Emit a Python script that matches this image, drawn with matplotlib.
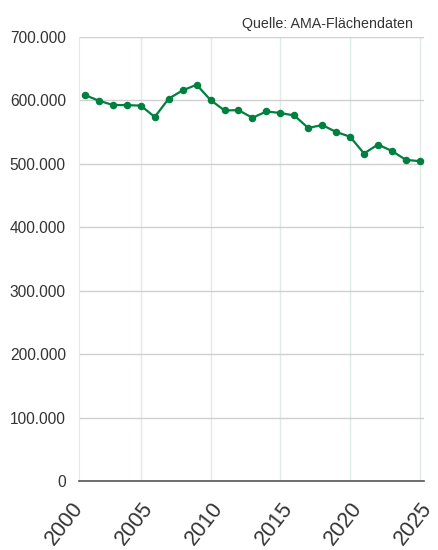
import matplotlib
matplotlib.use("Agg")
import matplotlib.pyplot as plt
from matplotlib.ticker import FuncFormatter
from matplotlib.transforms import ScaledTranslation

plt.rcParams['font.family'] = ['Liberation Sans Narrow', 'Liberation Sans', 'DejaVu Sans']

years = list(range(2001, 2026))
flaeche = [608400, 599500, 592800, 592600, 591800, 573900, 602800, 615900, 624700,
           600600, 584200, 584700, 572600, 582600, 580200, 576300, 556600, 561200,
           550300, 542800, 516300, 530500, 520300, 506300, 504200]

tick_years = [2000, 2005, 2010, 2015, 2020, 2025]
y_ticks = [0, 100000, 200000, 300000, 400000, 500000, 600000, 700000]

green = '#00803F'
text_col = '#333333'

fig = plt.figure(figsize=(4.39, 5.5), dpi=100)
ax = fig.add_axes([79 / 439, 69 / 550, 345 / 439, 444 / 550])

ax.plot(years, flaeche, color=green, linewidth=1.6, marker='o', markersize=4.4, zorder=3)

ax.set_xlim(2000.57, 2025.3)
ax.set_ylim(0, 700000)
ax.set_yticks(y_ticks)
ax.yaxis.set_major_formatter(FuncFormatter(lambda v, p: f"{int(v):,}".replace(",", ".")))
ax.set_xticks(tick_years[1:])
ax.set_xticklabels([str(t) for t in tick_years[1:]])

ax.grid(axis='y', color='#d0d0d0', linewidth=1.0)
ax.grid(axis='x', color='#dfece5', linewidth=1.0)
ax.set_axisbelow(True)

for s in ['top', 'right']:
    ax.spines[s].set_visible(False)
ax.spines['left'].set_color('#dfece5')
ax.spines['bottom'].set_color('#555555')
ax.spines['bottom'].set_linewidth(1.2)

ax.tick_params(axis='y', length=0, pad=9.5, labelsize=11.2, labelcolor=text_col)
ax.tick_params(axis='x', length=0, pad=17, labelsize=15.5, labelcolor=text_col)

rot = 52
shift = ScaledTranslation(6 / 72, 0, fig.dpi_scale_trans)
for lab in ax.get_xticklabels():
    lab.set_rotation(rot)
    lab.set_ha('right')
    lab.set_va('center')
    lab.set_rotation_mode('anchor')
    lab.set_transform(lab.get_transform() + shift)

# first year label sits left of the plot edge
ax.text(tick_years[0], 0, str(tick_years[0]),
        transform=ax.get_xaxis_transform() + ScaledTranslation(6 / 72, -17 / 72, fig.dpi_scale_trans),
        rotation=rot, ha='right', va='center', rotation_mode='anchor', fontsize=15.5, color=text_col, clip_on=False)

fig.text(413 / 439, 1 - 28 / 550, 'Quelle: AMA-Flächendaten', ha='right', va='baseline',
         fontsize=10.3, color=text_col)

fig.savefig('out.png', dpi=100)
